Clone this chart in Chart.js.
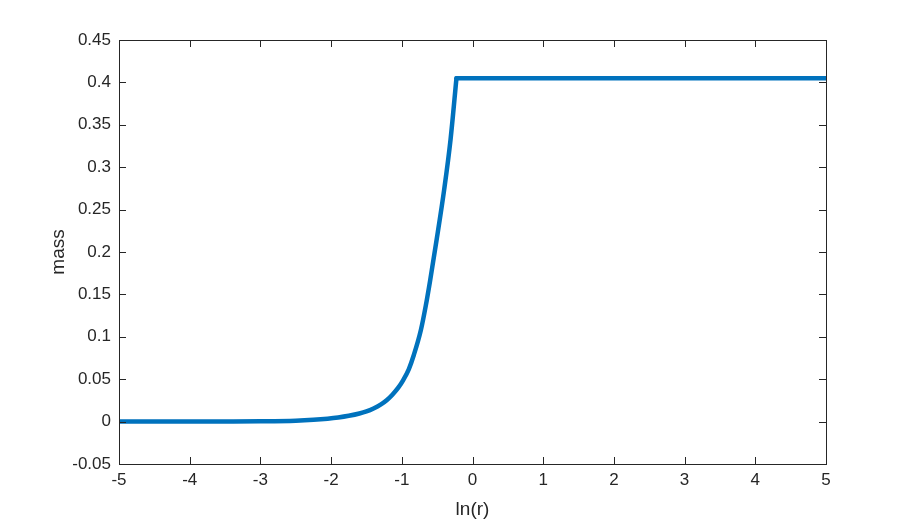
<!DOCTYPE html>
<html lang="en">
<head>
    <meta charset="UTF-8">
    <title>mass vs ln(r)</title>
    <script src="https://cdn.jsdelivr.net/npm/chart.js"></script>
    <style>
        body {
            margin: 0;
            background-color: #ffffff;
        }
        #wrap {
            width: 913px;
            height: 523px;
        }
    </style>
</head>
<body>
<div id="wrap">
    <canvas id="massChart" width="913" height="523"></canvas>
</div>

<script>
    // values
    const lnR = [-5, -4, -3.5, -3, -2.5, -2.25, -2.05, -1.9, -1.75, -1.6, -1.5, -1.4, -1.3, -1.21, -1.13, -1.05,
        -0.98, -0.9, -0.83, -0.73, -0.66, -0.6, -0.51, -0.4, -0.31, -0.227,
        0, 1, 2, 3, 4, 5];
    const mass = [0, 0.0001, 0.0002, 0.0004, 0.0011, 0.0021, 0.0034, 0.0048, 0.0068, 0.0095, 0.012, 0.0155, 0.02, 0.0255, 0.032, 0.04,
        0.049, 0.062, 0.0785, 0.108, 0.137, 0.166, 0.213, 0.274, 0.333, 0.405,
        0.405, 0.405, 0.405, 0.405, 0.405, 0.405];
    const xTicks = [-5, -4, -3, -2, -1, 0, 1, 2, 3, 4, 5];
    const yTicks = [-0.05, 0, 0.05, 0.1, 0.15, 0.2, 0.25, 0.3, 0.35, 0.4, 0.45];

    const axisColor = '#262626';
    const lineColor = '#0072BD';
    const points = lnR.map((x, i) => ({x: x, y: mass[i]}));
    // sharp corner where the curve reaches its plateau
    const peak = mass.indexOf(Math.max(...mass));

    // MATLAB-style box with inward ticks on all four sides
    const boxTicks = {
        id: 'boxTicks',
        afterDraw(chart) {
            const {ctx, chartArea: a, scales} = chart;
            ctx.save();
            ctx.strokeStyle = axisColor;
            ctx.lineWidth = 1;
            ctx.strokeRect(a.left + 0.5, a.top + 0.5, a.right - a.left, a.bottom - a.top);
            const len = 7;
            ctx.beginPath();
            xTicks.forEach(v => {
                const px = Math.round(scales.x.getPixelForValue(v)) + 0.5;
                ctx.moveTo(px, a.bottom); ctx.lineTo(px, a.bottom - len);
                ctx.moveTo(px, a.top); ctx.lineTo(px, a.top + len);
            });
            yTicks.forEach(v => {
                const py = Math.round(scales.y.getPixelForValue(v)) + 0.5;
                ctx.moveTo(a.left, py); ctx.lineTo(a.left + len, py);
                ctx.moveTo(a.right, py); ctx.lineTo(a.right - len, py);
            });
            ctx.stroke();
            ctx.restore();
        }
    };

    const lineStyle = {
        borderColor: lineColor,
        borderWidth: 4.5,
        pointRadius: 0,
        fill: false,
        cubicInterpolationMode: 'monotone',
        borderCapStyle: 'round',
        borderJoinStyle: 'round'
    };

    const ctx = document.getElementById('massChart').getContext('2d');
    new Chart(ctx, {
        type: 'line',
        data: {
            datasets: [
                Object.assign({data: points.slice(0, peak + 1)}, lineStyle),
                Object.assign({data: points.slice(peak)}, lineStyle)
            ]
        },
        options: {
            responsive: false,
            animation: false,
            layout: {padding: {top: 40, right: 87, left: 0, bottom: 0}},
            plugins: {legend: {display: false}, tooltip: {enabled: false}},
            scales: {
                x: {
                    type: 'linear',
                    min: -5,
                    max: 5,
                    grid: {display: false, drawTicks: false},
                    border: {display: false},
                    afterBuildTicks: s => { s.ticks = xTicks.map(v => ({value: v})); },
                    afterFit: s => { s.height = 59; },
                    ticks: {
                        color: axisColor,
                        padding: 6,
                        font: {family: 'Liberation Sans', size: 17},
                        callback: v => String(v)
                    },
                    title: {
                        display: true,
                        text: 'ln(r)',
                        color: axisColor,
                        padding: {top: 0, bottom: 2},
                        font: {family: 'Liberation Sans', size: 19}
                    }
                },
                y: {
                    min: -0.05,
                    max: 0.45,
                    grid: {display: false, drawTicks: false},
                    border: {display: false},
                    afterBuildTicks: s => { s.ticks = yTicks.map(v => ({value: v})); },
                    afterFit: s => { s.width = 119; },
                    ticks: {
                        color: axisColor,
                        padding: 8,
                        font: {family: 'Liberation Sans', size: 17},
                        callback: v => String(parseFloat(v.toFixed(2)))
                    },
                    title: {
                        display: true,
                        text: 'mass',
                        color: axisColor,
                        padding: {top: 47, bottom: 0},
                        font: {family: 'Liberation Sans', size: 19}
                    }
                }
            }
        },
        plugins: [boxTicks]
    });
</script>
</body>
</html>
